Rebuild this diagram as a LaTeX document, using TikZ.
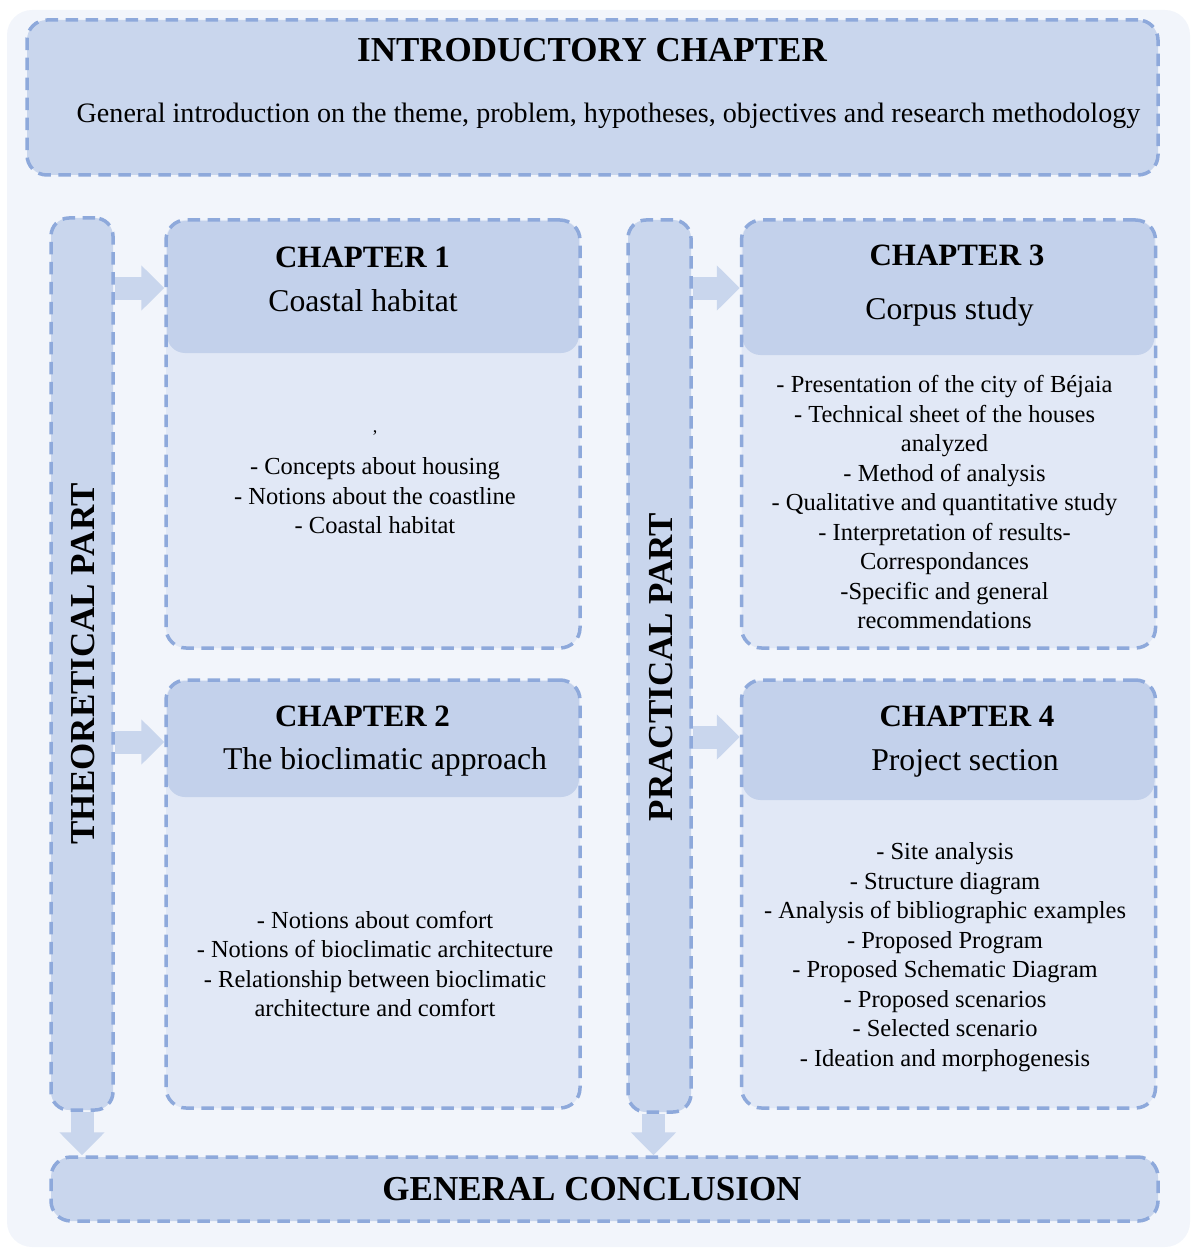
\documentclass[tikz,border=0pt]{standalone}
\usepackage{fontspec}
\setmainfont{Liberation Serif}
\usetikzlibrary{arrows.meta}
\definecolor{bgc}{HTML}{F2F5FB}
\definecolor{boxc}{HTML}{C9D6ED}
\definecolor{headc}{HTML}{C3D1EB}
\definecolor{bodyc}{HTML}{E1E8F6}
\definecolor{dashc}{HTML}{8EA9DB}
\definecolor{arrc}{HTML}{C9D6ED}
\newcommand\myfs[2]{\fontsize{#1}{#2}\selectfont}
\tikzset{
  dashborder/.style={draw=dashc, line width=3.5pt, dash pattern=on 12.5pt off 7.5pt},
  bigbox/.style={dashborder, fill=boxc, rounded corners=20pt, inner sep=0pt},
  chbox/.style={dashborder, rounded corners=20pt, inner sep=0pt},
  barbox/.style={dashborder, fill=boxc, rounded corners=18pt, inner sep=0pt},
  conn/.style={draw=arrc, line width=23pt, -{Triangle[length=23pt,width=44pt]}},
  bigtitle/.style={font=\myfs{35}{40}\bfseries, inner sep=0pt},
  chtitle/.style={font=\myfs{31}{36}\bfseries, inner sep=0pt},
  chsub/.style={font=\myfs{31.7}{36}, inner sep=0pt},
  bodytext/.style={font=\myfs{24.5}{29.5}, align=center, inner sep=0pt},
}
\begin{document}
\begin{tikzpicture}[x=1pt,y=-1pt]
\useasboundingbox (0,0) rectangle (1192,1249);
\fill[bgc, rounded corners=25pt] (7,10) rectangle (1190,1247);

% introductory chapter
\node[bigbox, minimum width=1131pt, minimum height=155pt] (intro) at (592.5,97.5) {};
\node[bigtitle] (introT) at (592,50) {INTRODUCTORY CHAPTER};
\node[font=\myfs{28.1}{32}, inner sep=0pt] (introS) at (608.5,116) {General introduction on the theme, problem, hypotheses, objectives and research methodology};

% side bars
\node[barbox, minimum width=62pt, minimum height=892pt] (th) at (82,664) {};
\node[bigtitle, rotate=90] (thT) at (83,664) {THEORETICAL PART};
\node[barbox, minimum width=63pt, minimum height=892pt] (pr) at (659.5,666) {};
\node[bigtitle, rotate=90] (prT) at (661,667) {PRACTICAL PART};

% chapter boxes: body, header, border
\foreach \nm/\cx/\cy/\hb in {ch1/373/434/353, ch2/373/894/797, ch3/948.5/434/355, ch4/948.5/894/800}{
  \fill[bodyc, rounded corners=20pt] (\cx-207,\cy-214) rectangle (\cx+207,\cy+214);
  \fill[headc, rounded corners=18pt] (\cx-206,\cy-213) rectangle (\cx+206,\hb);
  \node[chbox, minimum width=414pt, minimum height=428pt] (\nm) at (\cx,\cy) {};
}

\node[chtitle] (ch1T) at (362.5,257) {CHAPTER 1};
\node[chsub] (ch1S) at (363,301) {Coastal habitat};
\node[font=\myfs{18}{20}, inner sep=0pt] (ch1c) at (375,433) {,};
\node[bodytext] (ch1B) at (375,496) {- Concepts about housing\\- Notions about the coastline\\- Coastal habitat};

\node[chtitle] (ch2T) at (362.5,716) {CHAPTER 2};
\node[chsub] (ch2S) at (385,762) {The bioclimatic approach};
\node[bodytext] (ch2B) at (375,964) {- Notions about comfort\\- Notions of bioclimatic architecture\\- Relationship between bioclimatic\\architecture and comfort};

\node[chtitle] (ch3T) at (957,255) {CHAPTER 3};
\node[chsub] (ch3S) at (949.5,312) {Corpus study};
\node[bodytext] (ch3B) at (944.5,502) {- Presentation of the city of Béjaia\\- Technical sheet of the houses\\analyzed\\- Method of analysis\\- Qualitative and quantitative study\\- Interpretation of results-\\Correspondances\\-Specific and general\\recommendations};

\node[chtitle] (ch4T) at (967,716) {CHAPTER 4};
\node[chsub] (ch4S) at (965,763) {Project section};
\node[bodytext] (ch4B) at (945,957) {- Site analysis\\- Structure diagram\\- Analysis of bibliographic examples\\- Proposed Program\\- Proposed Schematic Diagram\\- Proposed scenarios\\- Selected scenario\\- Ideation and morphogenesis};

% general conclusion
\node[bigbox, minimum width=1107pt, minimum height=64pt] (concl) at (604.5,1189) {};
\node[bigtitle] (conclT) at (592,1189) {GENERAL CONCLUSION};

% connectors
\draw[conn] (th.east |- 0,288) -- (ch1.west |- 0,288);
\draw[conn] (th.east |- 0,742) -- (ch2.west |- 0,742);
\draw[conn] (pr.east |- 0,288) -- (ch3.west |- 0,288);
\draw[conn] (pr.east |- 0,737) -- (ch4.west |- 0,737);
\draw[conn] (th.south) -- (th.south |- concl.north);
\draw[conn] ([xshift=-6pt]pr.south) -- ([xshift=-6pt]pr.south |- concl.north);
\end{tikzpicture}
\end{document}
